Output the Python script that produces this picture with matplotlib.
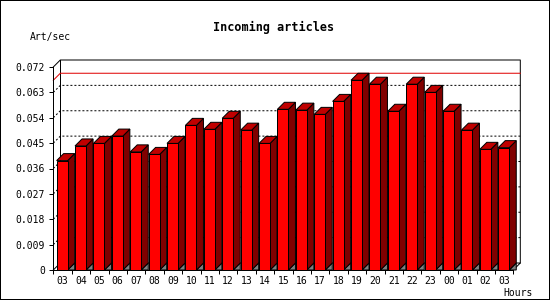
import matplotlib
matplotlib.use('Agg')
import matplotlib.pyplot as plt
import numpy as np
from matplotlib.patches import Polygon, Rectangle

# chart data
hours = ['03', '04', '05', '06', '07', '08', '09', '10', '11', '12', '13', '14', '15',
         '16', '17', '18', '19', '20', '21', '22', '23', '00', '01', '02', '03']
articles_per_sec = [0.0388, 0.0440, 0.0449, 0.0475, 0.0419, 0.0410, 0.0449, 0.0513,
                    0.0499, 0.0538, 0.0496, 0.0449, 0.0570, 0.0567, 0.0552, 0.0598,
                    0.0673, 0.0659, 0.0563, 0.0659, 0.0630, 0.0563, 0.0496, 0.0428,
                    0.0434]
y_ticks = [0, 0.009, 0.018, 0.027, 0.036, 0.045, 0.054, 0.063, 0.072]
y_tick_labels = ['0', '0.009', '0.018', '0.027', '0.036', '0.045', '0.054', '0.063', '0.072']

# style
FRONT, SIDE, TOP, FLOOR = '#ff0000', '#800000', '#c00000', '#808080'
LW = 0.72          # one pixel at 100 dpi
DEPTH_PX = 7       # 3d depth of the bars and frame
BAR_OFFSET, BAR_WIDTH = 0.18, 0.6

plt.rcParams['font.family'] = ['DejaVu Sans Mono']

W, H = 550, 300
ax_left, ax_bottom, ax_w, ax_h = 53.3, 30, 460, 203

fig = plt.figure(figsize=(W / 100, H / 100), dpi=100)
ax = fig.add_axes([ax_left / W, ax_bottom / H, ax_w / W, ax_h / H])
n = len(hours)
ytop = y_ticks[-1]
ax.set_xlim(0, n)
ax.set_ylim(0, ytop)
ax.patch.set_visible(False)
for s in ['top', 'right']:
    ax.spines[s].set_visible(False)
for s in ['left', 'bottom']:
    ax.spines[s].set_linewidth(LW)

dx = DEPTH_PX * n / ax_w
dy = DEPTH_PX * ytop / ax_h

ax.set_yticks(y_ticks, y_tick_labels)
ax.tick_params(axis='y', direction='out', length=2.9, width=LW, pad=2.9, labelsize=7)
ax.set_xticks(np.arange(n) + 0.5, hours)
ax.set_xticks(np.arange(n + 1), minor=True)
ax.tick_params(axis='x', which='major', length=0, pad=4.5, labelsize=7)
ax.tick_params(axis='x', which='minor', direction='out', length=2.9, width=LW)

line_kw = dict(color='k', lw=LW, clip_on=False)
# back frame and floor
ax.plot([0, dx, n + dx, n + dx], [ytop, ytop + dy, ytop + dy, dy], **line_kw)
ax.plot([dx, dx], [dy, ytop + dy], **line_kw)
ax.plot([0, dx, n + dx, n], [0, dy, dy, 0], **line_kw)

# dotted grid on the back wall
for v in y_ticks[1:-1]:
    ax.plot([0, dx, n + dx], [v, v + dy, v + dy], color='k', lw=LW,
            ls=(0, (2, 2)), clip_on=False)

# max line
peak = max(articles_per_sec)
ax.plot([0, dx, n + dx], [peak, peak + dy, peak + dy], color='#e00000', lw=LW, clip_on=False)

# 3d bars
for i, h in enumerate(articles_per_sec):
    xl = i + BAR_OFFSET
    xr = xl + BAR_WIDTH
    kw = dict(ec='k', lw=LW, clip_on=False, zorder=3, joinstyle='miter')
    ax.add_patch(Polygon([(xr, 0), (xr + dx, dy), (xr + dx, 0)], fc=FLOOR, **kw))
    ax.add_patch(Polygon([(xr, 0), (xr + dx, dy), (xr + dx, h + dy), (xr, h)], fc=SIDE, **kw))
    ax.add_patch(Polygon([(xl, h), (xr, h), (xr + dx, h + dy), (xl + dx, h + dy)], fc=TOP, **kw))
    ax.add_patch(Rectangle((xl, 0), BAR_WIDTH, h, fc=FRONT, **kw))

fig.text(274 / W, 1 - 27 / H, 'Incoming articles', ha='center', va='center',
         fontsize=8.5, fontweight='bold')
fig.text(30 / W, 1 - 37 / H, 'Art/sec', ha='left', va='center', fontsize=7)
fig.text(533 / W, 1 - 292.5 / H, 'Hours', ha='right', va='center', fontsize=7)

# outer border, half of the line falls outside the canvas
fig.add_artist(Rectangle((0, 0), 1, 1, transform=fig.transFigure, fill=False,
                         ec='k', lw=2 * LW))

fig.savefig('out.png', dpi=100)
